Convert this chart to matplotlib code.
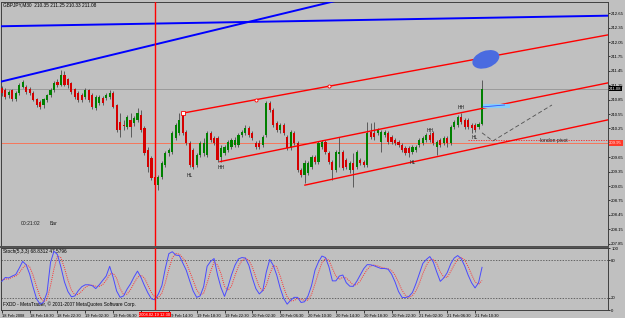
import numpy as np
import matplotlib.pyplot as plt
import matplotlib.transforms as mtransforms
from matplotlib.patches import Ellipse
from matplotlib.lines import Line2D

plt.rcParams['font.family'] = ['Liberation Sans', 'DejaVu Sans']

# GBPJPY M30, 18 Feb 2008 14:30 -> 21 Feb 11:30
opens = [
    211.09, 211.05, 210.95, 211.05, 210.86, 210.99, 211.11, 211.11, 211.07, 210.99,
    210.86, 210.80, 210.74, 210.84, 210.95, 211.05, 211.22, 211.16, 211.36, 211.28,
    211.20, 211.07, 210.99, 210.95, 210.91, 211.05, 210.95, 210.68, 210.78, 210.89,
    210.89, 210.91, 210.99, 210.74, 210.39, 210.32, 210.28, 210.43, 210.36, 210.43,
    210.53, 210.26, 209.80, 209.64, 209.24, 209.07, 209.24, 209.49, 209.74, 209.76,
    210.05, 210.16, 210.53, 210.18, 209.95, 209.80, 209.49, 209.70, 209.74, 209.70,
    210.16, 210.05, 210.05, 209.66, 209.74, 209.80, 209.86, 209.91, 209.91, 210.11,
    210.16, 210.26, 210.16, 209.95, 209.95, 209.91, 210.11, 210.78, 210.64, 210.36,
    210.22, 210.32, 210.07, 209.84, 210.16, 209.95, 209.39, 209.28, 209.32, 209.45,
    209.66, 209.55, 209.86, 209.97, 209.74, 209.55, 209.39, 209.72, 209.76, 209.59,
    209.39, 209.53, 209.45, 209.59, 209.55, 209.49, 210.18, 210.16, 210.16, 209.97,
    210.11, 210.16, 210.07, 210.01, 209.97, 209.91, 209.84, 209.84, 209.76, 209.80,
    209.91, 209.95, 210.01, 210.11, 210.16, 209.86, 210.01, 209.95, 210.05, 209.95,
    210.28, 210.32, 210.49, 210.43, 210.43, 210.32, 210.32, 210.28, 210.35]
highs = [
    211.14, 211.09, 211.05, 211.07, 211.03, 211.20, 211.26, 211.16, 211.11, 211.03,
    210.89, 210.84, 210.89, 210.97, 211.09, 211.24, 211.28, 211.47, 211.45, 211.30,
    211.22, 211.09, 211.03, 210.99, 211.09, 211.07, 210.99, 210.95, 210.95, 210.93,
    210.99, 211.05, 211.03, 210.76, 210.57, 210.43, 210.53, 210.57, 210.51, 210.68,
    210.64, 210.30, 209.86, 209.68, 209.28, 209.28, 209.57, 209.78, 209.84, 210.20,
    210.36, 210.57, 210.57, 210.22, 209.99, 209.84, 209.74, 209.99, 210.05, 210.20,
    210.20, 210.09, 210.09, 209.91, 209.91, 210.01, 210.05, 210.07, 210.16, 210.22,
    210.32, 210.30, 210.20, 209.99, 210.01, 210.11, 210.82, 210.82, 210.68, 210.41,
    210.36, 210.36, 210.11, 210.22, 210.20, 209.99, 209.43, 209.59, 209.57, 209.70,
    209.70, 209.99, 210.01, 210.01, 209.78, 209.59, 209.80, 210.07, 209.80, 209.64,
    209.57, 209.74, 209.80, 209.64, 209.59, 210.39, 210.36, 210.39, 210.26, 210.22,
    210.22, 210.20, 210.11, 210.05, 210.01, 209.95, 209.89, 209.89, 209.91, 209.91,
    210.05, 210.09, 210.16, 210.18, 210.20, 210.01, 210.05, 210.09, 210.09, 210.32,
    210.43, 210.53, 210.57, 210.47, 210.47, 210.36, 210.36, 210.39, 211.25]
lows = [
    210.93, 210.86, 210.89, 210.82, 210.82, 210.95, 211.09, 210.97, 210.95, 210.82,
    210.70, 210.66, 210.68, 210.80, 210.91, 211.01, 211.11, 211.14, 211.14, 211.09,
    210.97, 210.86, 210.80, 210.80, 210.86, 210.80, 210.66, 210.64, 210.74, 210.74,
    210.84, 210.86, 210.68, 210.18, 210.07, 210.22, 210.24, 210.07, 210.30, 210.39,
    210.18, 209.70, 209.34, 209.18, 208.76, 208.97, 209.20, 209.45, 209.68, 209.72,
    210.01, 210.11, 210.11, 209.91, 209.45, 209.41, 209.45, 209.66, 209.68, 209.66,
    209.97, 209.91, 209.55, 209.55, 209.70, 209.76, 209.82, 209.86, 209.86, 210.07,
    210.11, 210.07, 210.01, 209.82, 209.82, 209.86, 210.07, 210.59, 210.28, 210.18,
    210.16, 210.11, 209.80, 209.80, 209.91, 209.34, 209.24, 209.11, 209.28, 209.41,
    209.51, 209.51, 209.82, 209.72, 209.51, 209.18, 209.34, 209.45, 209.39, 209.41,
    209.32, 209.03, 209.41, 209.49, 209.45, 209.45, 210.03, 210.01, 210.11, 209.76,
    210.07, 209.93, 209.93, 209.91, 209.86, 209.76, 209.70, 209.66, 209.72, 209.76,
    209.86, 209.91, 209.97, 209.97, 209.91, 209.70, 209.86, 209.91, 209.86, 209.91,
    210.24, 210.28, 210.34, 210.24, 210.24, 210.16, 210.18, 210.24, 210.33]
closes = [
    210.99, 210.91, 211.01, 210.86, 210.99, 211.16, 211.22, 211.01, 210.99, 210.84,
    210.74, 210.70, 210.86, 210.95, 211.05, 211.20, 211.16, 211.36, 211.16, 211.16,
    211.01, 210.91, 210.84, 210.84, 211.05, 210.84, 210.70, 210.91, 210.91, 210.78,
    210.95, 210.99, 210.70, 210.22, 210.22, 210.30, 210.49, 210.28, 210.47, 210.57,
    210.22, 209.74, 209.45, 209.22, 209.07, 209.24, 209.53, 209.74, 209.80, 210.16,
    210.32, 210.43, 210.16, 209.95, 209.49, 209.45, 209.70, 209.95, 209.95, 210.16,
    210.01, 209.95, 209.59, 209.84, 209.86, 209.97, 210.01, 210.01, 210.11, 210.18,
    210.26, 210.11, 210.05, 209.86, 209.86, 210.07, 210.78, 210.64, 210.32, 210.22,
    210.32, 210.16, 209.84, 210.18, 209.95, 209.39, 209.28, 209.53, 209.53, 209.66,
    209.55, 209.95, 209.97, 209.76, 209.55, 209.39, 209.76, 209.76, 209.43, 209.45,
    209.53, 209.39, 209.76, 209.53, 209.49, 210.16, 210.07, 210.07, 210.22, 210.18,
    210.18, 209.97, 209.97, 209.95, 209.91, 209.80, 209.74, 209.74, 209.86, 209.86,
    210.01, 210.05, 210.11, 210.01, 209.95, 209.97, 209.91, 210.05, 209.95, 210.28,
    210.39, 210.49, 210.39, 210.28, 210.28, 210.26, 210.22, 210.34, 211.08]

# Stochastic(5,3,3)
stoch_main = [
    46.2, 52.5, 51.7, 54.8, 57.2, 67.4, 78.4, 72.9, 58.0, 36.8,
    18.0, 9.4, 12.5, 28.2, 76.8, 94.8, 89.3, 69.0, 45.4, 29.8,
    21.2, 22.7, 31.3, 37.6, 40.7, 40.7, 39.2, 34.5, 40.7, 47.8,
    54.8, 70.5, 52.5, 30.6, 20.4, 22.7, 33.7, 42.3, 53.3, 62.7,
    52.5, 39.2, 27.4, 18.0, 16.5, 25.9, 39.2, 67.4, 90.9, 94.0,
    88.5, 87.8, 76.0, 64.2, 47.0, 30.6, 20.4, 22.7, 37.6, 70.5,
    78.4, 83.0, 56.4, 36.0, 21.9, 37.6, 56.4, 72.1, 82.3, 84.6,
    83.8, 72.1, 51.7, 34.5, 25.9, 31.3, 61.1, 81.5, 72.1, 56.4,
    35.3, 18.8, 9.4, 15.7, 20.4, 20.4, 12.1, 13.3, 22.7, 39.2,
    64.2, 77.6, 87.0, 84.6, 69.7, 47.0, 47.0, 54.8, 56.4, 43.9,
    38.4, 38.1, 46.2, 56.4, 66.6, 73.2, 72.9, 71.3, 69.0, 66.9,
    66.9, 65.8, 58.0, 45.4, 29.8, 20.4, 19.9, 21.9, 28.2, 42.3,
    58.8, 75.2, 81.5, 86.2, 77.3, 61.1, 46.2, 51.7, 60.3, 74.4,
    83.8, 87.8, 83.0, 71.3, 56.4, 43.9, 35.6, 43.9, 68.8]
stoch_signal = [
    48.0, 50.0, 50.1, 53.0, 54.6, 59.8, 67.7, 72.9, 69.8, 55.9,
    37.6, 21.4, 13.3, 16.7, 39.2, 66.6, 87.0, 84.4, 67.9, 48.1,
    32.1, 24.6, 25.1, 30.5, 36.5, 39.7, 40.2, 38.1, 38.1, 41.0,
    47.8, 57.7, 59.3, 51.2, 34.5, 24.6, 25.6, 32.9, 43.1, 52.8,
    56.2, 51.5, 39.7, 28.2, 20.6, 20.1, 27.2, 44.2, 65.8, 84.1,
    91.1, 90.1, 84.1, 76.0, 62.4, 47.3, 32.7, 24.6, 26.9, 43.6,
    62.2, 77.3, 72.6, 58.5, 38.1, 31.8, 38.6, 55.4, 70.3, 79.7,
    83.6, 80.2, 69.2, 52.8, 37.4, 30.6, 39.4, 58.0, 71.6, 70.0,
    54.6, 36.8, 21.2, 14.6, 15.2, 18.8, 17.6, 15.3, 16.0, 25.1,
    42.0, 60.3, 76.3, 83.1, 80.4, 67.1, 54.6, 49.6, 52.7, 51.7,
    46.2, 40.1, 40.9, 46.9, 56.4, 65.4, 70.9, 72.5, 71.1, 69.1,
    67.6, 66.5, 63.6, 56.4, 44.4, 31.9, 23.4, 20.7, 23.3, 30.8,
    43.1, 58.8, 71.8, 81.0, 81.7, 74.9, 61.5, 53.0, 52.7, 62.1,
    72.8, 82.0, 84.9, 80.7, 70.2, 57.2, 45.3, 41.1, 47.6]

time_ticks = [0, 8, 16, 24, 32, 40, 48, 56, 64, 72, 80, 88, 96, 104, 112, 120, 128, 136]
# "19 Feb 10:30" sits under the cursor time box, so it is left blank
time_labels = ["18 Feb 2008", "18 Feb 18:30", "18 Feb 22:30", "19 Feb 02:30", "19 Feb 06:30",
               "", "19 Feb 14:30", "19 Feb 18:30", "19 Feb 22:30", "20 Feb 02:30",
               "20 Feb 06:30", "20 Feb 10:30", "20 Feb 14:30", "20 Feb 18:30", "20 Feb 22:30",
               "21 Feb 02:30", "21 Feb 06:30", "21 Feb 10:30"]
price_ticks = [207.85, 208.15, 208.45, 208.75, 209.05, 209.35, 209.65,
               210.25, 210.55, 210.85, 211.15, 211.45, 211.75, 212.05, 212.35, 212.65]

# drawn objects (bar index, price)
blue_line_a = [(0, 212.38), (174.2, 212.60)]
blue_line_b = [(0, 211.23), (97.2, 212.93)]
red_upper = [(52.0, 210.57), (174.2, 212.20)]
red_mid = [(62.7, 209.56), (174.2, 211.20)]
red_low = [(87.1, 209.07), (174.2, 210.43)]
red_points = [(73.0, 210.85), (94.1, 211.13)]
projection = [(138.0, 210.16), (141.1, 209.99), (158.1, 210.74)]
swing_labels = [("HL", 54.1, 209.28), ("HH", 63.0, 209.43), ("HL", 118.2, 209.55),
                ("HH", 123.0, 210.20), ("HH", 132.0, 210.68), ("HL", 136.0, 210.07)]
cursor_bar = 44
bid = 211.08
pivot = 209.95

BG = "#c0c0c0"
W, H = 625.0, 318.0
fig = plt.figure(figsize=(6.25, 3.18), dpi=100, facecolor=BG)


def px_axes(x0, y0, x1, y1):
    return fig.add_axes([x0 / W, 1 - y1 / H, (x1 - x0) / W, (y1 - y0) / H])


ax = px_axes(1, 2, 608, 246)
ax2 = px_axes(1, 248, 608, 310)
XMIN, XMAX = -0.23, 174.2

for a in (ax, ax2):
    a.set_facecolor(BG)
    a.set_xlim(XMIN, XMAX)
    for s in a.spines.values():
        s.set_color("#404040")
        s.set_linewidth(0.7)
    a.yaxis.tick_right()
    a.tick_params(axis="y", length=1.5, width=0.5, labelsize=3.1, pad=0.8, colors="#000000")

# candles
o = np.array(opens)
c = np.array(closes)
idx = np.arange(len(c))
up = c >= o
body_lo = np.minimum(o, c)
body_h = np.maximum(np.abs(c - o), 0.012)
ax.vlines(idx, lows, highs, color="#4a4a4a", lw=0.6, zorder=3)
ax.bar(idx[up], body_h[up], 0.62, bottom=body_lo[up], color="#008000", lw=0, zorder=4)
ax.bar(idx[~up], body_h[~up], 0.62, bottom=body_lo[~up], color="#d40000", lw=0, zorder=4)

ax.set_ylim(207.802, 212.885)
ax.set_yticks(price_ticks)
ax.set_yticklabels(["%.2f" % v for v in price_ticks])
ax.set_xticks([])

# horizontal levels
ax.axhline(bid, color="#9a9a9a", lw=0.7, zorder=1)
ax.axhline(pivot, color="#ff6a4a", lw=0.6, zorder=1)
ax.hlines(210.01, 134, XMAX, colors="#ff2020", linestyles=(0, (1.5, 1.5)), lw=0.6, zorder=1)

# trend lines
for ln in (blue_line_a, blue_line_b):
    ax.plot([p[0] for p in ln], [p[1] for p in ln], color="#0000ff", lw=1.4, zorder=5)
for ln in (red_upper, red_mid, red_low):
    ax.plot([p[0] for p in ln], [p[1] for p in ln], color="#ff0000", lw=1.0, zorder=5)
ax.plot([p[0] for p in red_points], [p[1] for p in red_points], "o", ms=2.2,
        mfc="white", mec="#ff0000", mew=0.6, zorder=6)
ax.plot([red_upper[0][0]], [red_upper[0][1]], "s", ms=2.2, mfc="white", mec="#ff0000", mew=0.6, zorder=6)

ax.plot([p[0] for p in projection], [p[1] for p in projection], color="#505050",
        lw=0.6, ls=(0, (5, 3)), zorder=5)
ax.plot([138.3, 146.0], [210.72, 210.72], color="#87cefa", lw=3.0, solid_capstyle="butt", zorder=5)
ax.plot([138.3, 144.5], [210.70, 210.74], color="#3050ff", lw=0.6, zorder=6)

ell = Ellipse((0, 0), 0.28, 0.17, angle=20, facecolor="#4a6be0", edgecolor="none",
              transform=fig.dpi_scale_trans + mtransforms.ScaledTranslation(139.1, 211.69, ax.transData),
              zorder=7)
ax.add_patch(ell)

ax.axvline(cursor_bar, color="#ff0000", lw=1.0, zorder=8)
ax2.axvline(cursor_bar, color="#ff0000", lw=1.0, zorder=8)

for txt, x, y in swing_labels:
    ax.text(x, y, txt, fontsize=3.6, color="#202020", ha="center", va="center", zorder=9)
ax.text(154.7, 210.0, "london pivot", fontsize=3.6, color="#202020", ha="left", va="center", zorder=9)
ax.text(5.5, 208.28, "00:21:02", fontsize=3.6, color="#202020", ha="left", va="center")
ax.text(13.6, 208.28, "Bar", fontsize=3.6, color="#202020", ha="left", va="center")

# price boxes on the right scale
ax.text(XMAX + 0.35, bid, "%.2f" % bid, fontsize=3.1, color="white", ha="left", va="center",
        clip_on=False, zorder=10, bbox=dict(facecolor="black", edgecolor="none", pad=0.5))
ax.text(XMAX + 0.35, pivot, "%.2f" % pivot, fontsize=3.1, color="#ffe0e0", ha="left", va="center",
        clip_on=False, zorder=10, bbox=dict(facecolor="#ff3a2a", edgecolor="none", pad=0.5))

fig.text(3 / W, 1 - 4.5 / H, "GBPJPY,M30  210.35 211.25 210.33 211.08", fontsize=3.4,
         color="#000000", ha="left", va="center")

# stochastic panel
ax2.plot(idx, stoch_signal, color="#ff3030", lw=0.7, ls=(0, (1, 1.2)), zorder=3)
ax2.plot(idx, stoch_main, color="#4a4aff", lw=0.7, zorder=4)
ax2.axhline(80, color="#404040", lw=0.5, ls=(0, (2, 2)), zorder=2)
ax2.axhline(20, color="#404040", lw=0.5, ls=(0, (2, 2)), zorder=2)
ax2.set_ylim(0, 100)
ax2.set_yticks([0, 20, 80, 100])
ax2.set_yticklabels(["0", "20", "80", "100"])
ax2.set_xticks(time_ticks)
ax2.set_xticklabels(time_labels)
ax2.tick_params(axis="x", length=2, width=0.5, labelsize=2.9, pad=0.8, colors="#000000")
for t in ax2.get_xticklabels():
    t.set_ha("left")
ax2.text(2 / 607, 0.94, "Stoch(5,3,3) 68.8312 47.5796", transform=ax2.transAxes,
         fontsize=3.4, color="#000000", ha="left", va="center")
ax2.text(2 / 607, 0.09, "FXDD - MetaTrader, \u00a9 2001-2007 MetaQuotes Software Corp.",
         transform=ax2.transAxes, fontsize=3.4, color="#000000", ha="left", va="center")
ax2.text(cursor_bar, -0.075, "2008.02.19 12:30", transform=ax2.get_xaxis_transform(),
         fontsize=2.9, color="white", ha="center", va="center", clip_on=False, zorder=10,
         bbox=dict(facecolor="#ff0000", edgecolor="none", pad=0.6))

fig.add_artist(Line2D([0, 608 / W], [1 - 247 / H, 1 - 247 / H], color="#505050", lw=1.4))

fig.savefig("out.png", dpi=100, facecolor=BG)
